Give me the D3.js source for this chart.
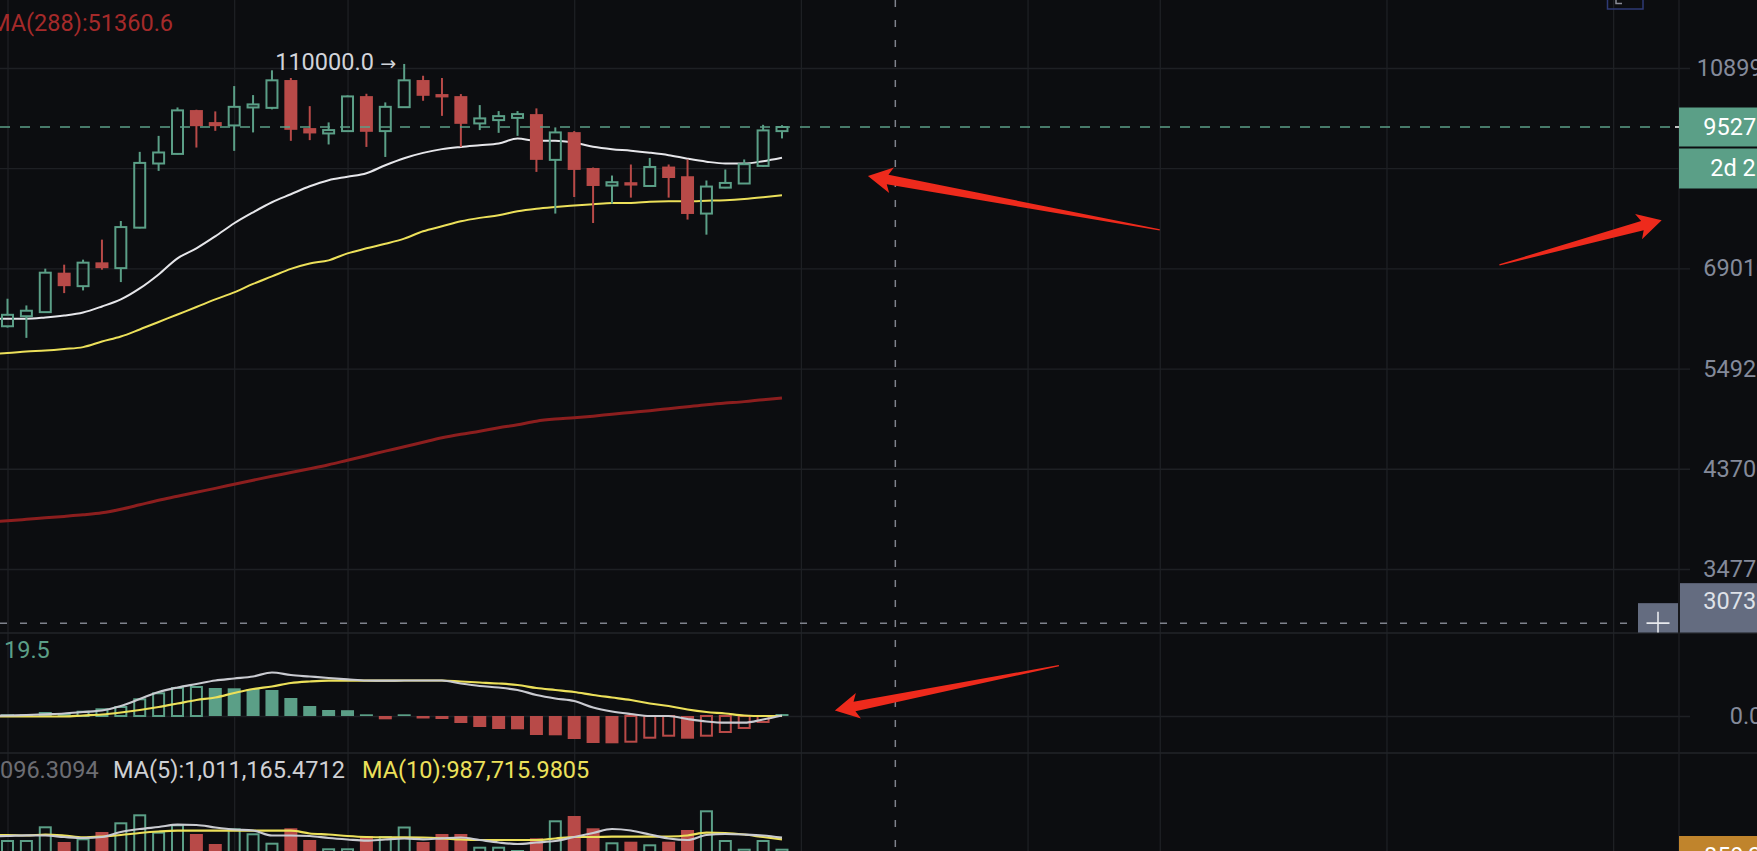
<!DOCTYPE html>
<html><head><meta charset="utf-8">
<script src="https://cdn.jsdelivr.net/npm/d3@7"></script>
<style>html,body{margin:0;padding:0;background:#0c0d10;overflow:hidden}svg{display:block}</style>
</head><body><svg id="c" width="1757" height="851"></svg>
<script>
// ---------- DATA ----------
const openP  = [60480,61880,62460,68340,66270,69970,69050,75730,87660,89600,99020,96340,95610,99610,99520,106040,95030,93880,94380,102220,94380,99680,106040,102700,102220,96050,96780,97270,98110,88390,94160,86770,83360,84000,83280,87050,85150,78200,82970,83750,87180,94380];
const highP  = [64400,63420,68970,69600,70400,73690,76890,90020,93360,99610,99100,98720,104590,102460,108420,106530,99910,96270,102390,102770,100770,110000,107080,106530,102700,100150,98790,98790,99400,95180,94380,86860,85290,87460,88780,87460,88470,84330,86470,88470,95740,95670];
const lowP   = [60300,58900,62400,65230,65630,68810,66890,75620,86200,89480,90910,94440,90230,94100,99180,92310,92460,91550,94300,91040,88980,99600,101140,97720,91040,94600,94010,93360,86000,78200,81210,76540,80010,81100,83200,81100,77140,74530,82860,83700,86970,92820];
const closeP = [62080,62660,68340,66270,69920,69050,75830,87780,89890,98950,95450,95450,99750,100310,105970,94660,93880,94600,102150,94230,99750,105970,102290,101920,95960,97160,97660,98110,88390,94100,86390,83280,84000,83360,86970,84810,78130,83170,83860,87520,94530,95270];
// indicator series start one bar before the first visible candle (index -1)
const maWhite  = [61520,61520,61520,61700,61980,62410,63270,64300,65930,68070,70610,72240,74250,76490,78430,80250,81720,83220,84380,85050,85740,87320,88730,89810,90580,91040,91400,91760,92780,92310,92310,91890,91080,90580,90270,89850,89340,88630,88030,87660,87660,88130,88830];
const maYellow = [56800,56900,57090,57220,57420,57670,58410,59080,60040,61070,62130,63190,64300,65330,66610,67760,68940,69800,70290,71420,72240,72990,73860,75100,75960,76840,77440,77890,78610,79070,79380,79640,79880,80120,80120,80340,80430,80430,80520,80620,80840,81160,81530];
const ma288    = [38690,38810,38940,39070,39200,39340,39520,39840,40250,40670,41040,41420,41790,42180,42570,42960,43320,43700,44100,44560,45020,45490,45950,46430,46900,47280,47610,47990,48320,48710,48940,49090,49270,49490,49690,49890,50120,50350,50580,50760,50930,51160,51360.6];
const macdDif  = [0,5,10,17,25,40,55,100,170,240,285,320,355,375,395,435,410,395,380,367,355,353,355,355,355,325,300,285,260,210,175,150,85,45,20,0,0,-30,-55,-67,-67,-35,5];
const macdDea  = [-5,-5,-5,-5,-5,5,15,35,60,90,125,160,185,230,270,295,330,345,353,353,353,353,355,355,355,345,335,325,310,280,260,240,210,185,160,125,100,65,40,25,5,0,0];
const volMa5   = [1030000,1034480,1044130,1041370,1020680,1006890,1020680,1089650,1131030,1158610,1190340,1186200,1151720,1124130,1110340,1041370,1041370,1034480,1006890,986200,969650,986200,1000000,988960,1002750,1013790,979300,944820,924130,944820,965510,1020680,1075860,1131030,1110340,1055160,1000000,979300,1048270,1062060,1055160,1041370,1011165.4712];
const volMa10  = [1048270,1048270,1041370,1055160,1041370,1016540,1027580,1048270,1075860,1096540,1107580,1107580,1107580,1107580,1107580,1107580,1107580,1068960,1055160,1034480,1020680,1016540,1016540,1013790,1002750,986200,979300,979300,979300,979300,1000000,1020680,1020680,1024820,1024820,1024820,1027580,1041370,1079990,1075860,1055160,1020680,987715.9805];
const macdHist = [17,17,40,30,53,77,100,177,237,290,300,280,277,270,260,180,100,60,58,17,-33,17,-25,-30,-70,-110,-130,-133,-190,-193,-230,-270,-273,-267,-227,-207,-227,-207,-170,-130,-70,19.5];
const volume   = [979300,979300,1168270,951700,1002750,1089650,1223440,1333780,1093790,1195850,1062060,924130,1140680,1071720,942060,1140680,979300,864820,864820,1034480,1034480,1165510,951700,1062060,1062060,886890,886890,841370,1002750,1251030,1310340,1140680,947580,955850,919990,955850,1117230,1388960,979300,859300,979300,859300];
const priceTicks = [108990, 86730, 69010, 54920, 43700, 34770];
const priceTickLabels = ["108990.0", "", "69010.0", "54920.0", "43700.0", "34770.0"]; // 2nd is hidden under the countdown box
const timeGridIdx = [0,12,18,30,42,54,61,73,85];
const lastPrice = 95270.0;
const countdown = "2d 21h";
const crossIdx = 47, crossPrice = 30730.8, crossPct = "-67.74%";
const highMarkIdx = 21, highMarkPrice = 110000.0;
const ma288Label = "MA(288):51360.6";
const macdLabel = "19.5";
const volLabels = ["096.3094", "MA(5):1,011,165.4712", "MA(10):987,715.9805"];
const lastVolLabel = "859,296";
// hand-drawn annotation arrows (data coordinates)
const arrows = [
  {pane:"main", tip:[45.55, 85206], tail:[61.0, 75361]},
  {pane:"main", tip:[87.57, 77014], tail:[78.98, 69564]},
  {pane:"macd", tip:[43.8, 55], tail:[55.66, 504]}
];

// ---------- STYLE / LAYOUT ----------
const W=1757, H=851;
const C={bg:"#0c0d10",grid:"#1e2024",up:"#5b9f87",down:"#b84a48",white:"#e6e6ea",yellow:"#ece05a",
  ma288:"#8c1e1e",axisText:"#848a9a",cross:"#7f828c",arrow:"#ee2a1c",label:"#646c80",orange:"#c0842c"};
const FONT="Roboto, 'Noto Sans', sans-serif", FS=23.5;
const axisX=1679, tickEnd=1690, labelCX=1746;
const mainBottom=632.5, macdTop=633, macdBottom=753;

const xs=d3.scaleLinear().domain([0,85]).range([7.5,1613.15]);
const ys=d3.scaleLog().domain([34770,108990]).range([569,68]);
const ym=d3.scaleLinear().domain([-370,830]).range([753,633]);
const yv=d3.scaleLinear().domain([0,1e6]).range([911,838.5]);

const svg=d3.select("#c");
svg.append("rect").attr("width",W).attr("height",H).attr("fill",C.bg);
const defs=svg.append("defs");
defs.append("clipPath").attr("id","cpMain").append("rect").attr("x",0).attr("y",0).attr("width",W).attr("height",mainBottom);
defs.append("clipPath").attr("id","cpMacd").append("rect").attr("x",0).attr("y",macdTop+1).attr("width",axisX).attr("height",macdBottom-macdTop-1);
defs.append("clipPath").attr("id","cpVol").append("rect").attr("x",0).attr("y",macdBottom+1).attr("width",W).attr("height",H-macdBottom);

const styleGrid=g=>{g.select(".domain").remove();g.selectAll("line").attr("stroke",C.grid).attr("stroke-width",1.3);};
svg.append("g").call(d3.axisTop(xs).tickValues(timeGridIdx).tickSize(-H).tickFormat("")).call(styleGrid);
svg.append("g").attr("transform",`translate(${tickEnd},0)`)
  .call(d3.axisLeft(ys).tickValues(priceTicks).tickSize(tickEnd).tickFormat("")).call(styleGrid);
svg.append("g").attr("transform",`translate(${tickEnd},0)`)
  .call(d3.axisLeft(ym).tickValues([0]).tickSize(tickEnd).tickFormat("")).call(styleGrid);
[macdTop,macdBottom].forEach(y=>svg.append("line").attr("x1",0).attr("x2",W).attr("y1",y).attr("y2",y).attr("stroke","#222428").attr("stroke-width",1.5));
svg.append("line").attr("x1",axisX).attr("x2",axisX).attr("y1",0).attr("y2",H).attr("stroke",C.grid).attr("stroke-width",1.3);

function axisLabels(scale, vals, fmt){
  const g=svg.append("g").attr("transform",`translate(${labelCX},0)`)
    .call(d3.axisRight(scale).tickValues(vals).tickSize(0).tickPadding(0).tickFormat(fmt));
  g.select(".domain").remove();
  g.selectAll("text").attr("x",0).attr("text-anchor","middle").attr("fill",C.axisText)
    .style("font-family",FONT).style("font-size",FS+"px");
  g.selectAll(".tick").filter(function(){return d3.select(this).select("text").text()==="";}).remove();
}
axisLabels(ys, priceTicks, (d,i)=>priceTickLabels[i]);
axisLabels(ym, [0], d=>d.toFixed(1));

// ---------- MAIN PANE ----------
const main=svg.append("g").attr("clip-path","url(#cpMain)");
const N=openP.length, idx=d3.range(N);
const lineP=arr=>d3.line().x((d,i)=>xs(i-1)).y(d=>ys(d)).curve(d3.curveMonotoneX)(arr);
main.append("path").attr("d",lineP(ma288)).attr("fill","none").attr("stroke",C.ma288).attr("stroke-width",3);
main.append("path").attr("d",lineP(maYellow)).attr("fill","none").attr("stroke",C.yellow).attr("stroke-width",2);
main.append("path").attr("d",lineP(maWhite)).attr("fill","none").attr("stroke",C.white).attr("stroke-width",2);

const gc=main.append("g");
idx.forEach(i=>{
  const o=openP[i],c=closeP[i],h=highP[i],l=lowP[i],x=xs(i),up=c>=o;
  const yT=ys(Math.max(o,c)), yB=ys(Math.min(o,c));
  const col=up?C.up:C.down;
  if(up){
    gc.append("line").attr("x1",x).attr("x2",x).attr("y1",ys(h)).attr("y2",yT).attr("stroke",col).attr("stroke-width",2);
    gc.append("line").attr("x1",x).attr("x2",x).attr("y1",yB).attr("y2",ys(l)).attr("stroke",col).attr("stroke-width",2);
    gc.append("rect").attr("x",x-5.5).attr("y",yT).attr("width",11).attr("height",Math.max(yB-yT,1))
      .attr("fill","none").attr("stroke",col).attr("stroke-width",2);
  } else {
    gc.append("line").attr("x1",x).attr("x2",x).attr("y1",ys(h)).attr("y2",ys(l)).attr("stroke",col).attr("stroke-width",2);
    gc.append("rect").attr("x",x-6.5).attr("y",yT).attr("width",13).attr("height",Math.max(yB-yT,2)).attr("fill",col);
  }
});

const yLast=ys(lastPrice);
main.append("line").attr("x1",0).attr("x2",axisX).attr("y1",yLast).attr("y2",yLast)
  .attr("stroke",C.up).attr("stroke-width",1.5).attr("stroke-dasharray","10,10");
svg.append("line").attr("x1",axisX-4).attr("x2",tickEnd).attr("y1",yLast).attr("y2",yLast).attr("stroke","#ffffff").attr("stroke-width",1.5);
svg.append("rect").attr("x",axisX).attr("y",yLast-19.5).attr("width",W-axisX).attr("height",39).attr("fill",C.up);
svg.append("rect").attr("x",axisX).attr("y",yLast+21.5).attr("width",W-axisX).attr("height",40).attr("fill",C.up);
const tx=(x,y,t,col,anchor)=>svg.append("text").attr("x",x).attr("y",y).attr("fill",col).attr("text-anchor",anchor||"start")
  .style("font-family",FONT).style("font-size",FS+"px").text(t);
tx(labelCX,yLast+8,lastPrice.toFixed(1),"#ffffff","middle");
tx(labelCX,yLast+49.5,countdown,"#ffffff","middle");

// high marker
tx(xs(highMarkIdx)-129,ys(highMarkPrice)+6,highMarkPrice.toFixed(1),"#d2d4da");
svg.append("text").attr("x",xs(highMarkIdx)-24).attr("y",ys(highMarkPrice)+6).attr("fill","#d2d4da")
  .style("font-family","'DejaVu Sans', sans-serif").style("font-size","19px").text("→");

tx(-10,31,ma288Label,"#a52a2a");

// ---------- MACD PANE ----------
const mg=svg.append("g").attr("clip-path","url(#cpMacd)");
macdHist.forEach((v,i)=>{
  const prev=i>0?macdHist[i-1]:0, x=xs(i);
  const pos=v>=0, col=pos?C.up:C.down;
  const hollow=v>prev;
  const y0=ym(0), y1=ym(v), top=Math.min(y0,y1), hh=Math.max(Math.abs(y1-y0),1.5);
  if(hollow && hh>3){
    mg.append("rect").attr("x",x-5.5).attr("y",top+(pos?1:0)).attr("width",11).attr("height",hh-1)
      .attr("fill","none").attr("stroke",col).attr("stroke-width",2);
  } else {
    mg.append("rect").attr("x",x-6.5).attr("y",top).attr("width",13).attr("height",hh).attr("fill",col);
  }
});
const lineM=arr=>d3.line().x((d,i)=>xs(i-1)).y(d=>ym(d)).curve(d3.curveMonotoneX)(arr);
mg.append("path").attr("d",lineM(macdDea)).attr("fill","none").attr("stroke",C.yellow).attr("stroke-width",2.2);
mg.append("path").attr("d",lineM(macdDif)).attr("fill","none").attr("stroke","#c9cad0").attr("stroke-width",2.2);
tx(4,658,macdLabel,C.up);

// ---------- VOLUME PANE ----------
const vg=svg.append("g").attr("clip-path","url(#cpVol)");
volume.forEach((v,i)=>{
  const x=xs(i), up=closeP[i]>=openP[i], col=up?C.up:C.down, y=yv(v);
  if(up) vg.append("rect").attr("x",x-5.5).attr("y",y+1).attr("width",11).attr("height",H+20-y).attr("fill","none").attr("stroke",col).attr("stroke-width",2);
  else vg.append("rect").attr("x",x-6.5).attr("y",y).attr("width",13).attr("height",H+20-y).attr("fill",col);
});
const lineV=arr=>d3.line().x((d,i)=>xs(i-1)).y(d=>yv(d)).curve(d3.curveMonotoneX)(arr);
vg.append("path").attr("d",lineV(volMa10)).attr("fill","none").attr("stroke",C.yellow).attr("stroke-width",2.2);
vg.append("path").attr("d",lineV(volMa5)).attr("fill","none").attr("stroke","#c9cad0").attr("stroke-width",2.2);
tx(0,778,volLabels[0],"#6c6d73");
tx(113,778,volLabels[1],"#cfd0d4");
tx(362,778,volLabels[2],"#ece05a");
svg.append("rect").attr("x",axisX).attr("y",836).attr("width",W-axisX).attr("height",40).attr("fill",C.orange);
tx(labelCX,864,lastVolLabel,"#ffffff","middle");

// ---------- CROSSHAIR ----------
const cx=xs(crossIdx), cy=ys(crossPrice);
svg.append("line").attr("x1",cx).attr("x2",cx).attr("y1",0).attr("y2",H).attr("stroke",C.cross).attr("stroke-width",1.5).attr("stroke-dasharray","7,13");
main.append("line").attr("x1",0).attr("x2",axisX-41).attr("y1",cy).attr("y2",cy).attr("stroke",C.cross).attr("stroke-width",1.5).attr("stroke-dasharray","7,13");
const cg=svg.append("g").attr("clip-path","url(#cpMain)");
cg.append("rect").attr("x",axisX+1).attr("y",cy-40).attr("width",W-axisX).attr("height",82).attr("fill",C.label);
cg.append("rect").attr("x",axisX-41).attr("y",cy-20).attr("width",40).attr("height",40).attr("fill",C.label);
cg.append("line").attr("x1",axisX-32.5).attr("x2",axisX-9.5).attr("y1",cy).attr("y2",cy).attr("stroke","#e8eaee").attr("stroke-width",1.6);
cg.append("line").attr("x1",axisX-21).attr("x2",axisX-21).attr("y1",cy-11.5).attr("y2",cy+11.5).attr("stroke","#e8eaee").attr("stroke-width",1.6);
cg.append("text").attr("x",labelCX).attr("y",cy-14).attr("text-anchor","middle").attr("fill","#dfe2e8").style("font-family",FONT).style("font-size",FS+"px").text(crossPrice.toFixed(1));
cg.append("text").attr("x",labelCX).attr("y",cy+27).attr("text-anchor","middle").attr("fill","#dfe2e8").style("font-family",FONT).style("font-size",FS+"px").text(crossPct);

svg.append("rect").attr("x",1607.5).attr("y",-12).attr("width",35.5).attr("height",21).attr("fill","none").attr("stroke","#2e3a74").attr("stroke-width",1.5);
svg.append("path").attr("d","M1616,-2 V3.5 H1622").attr("fill","none").attr("stroke","#8a8d96").attr("stroke-width",1.5);

// ---------- ANNOTATION ARROWS ----------
function arrowPoly(p, q){
  const dx=q[0]-p[0], dy=q[1]-p[1], L=Math.hypot(dx,dy), ux=dx/L, uy=dy/L, nx=-uy, ny=ux;
  const pt=(a,b)=>[p[0]+ux*a+nx*b, p[1]+uy*a+ny*b];
  return [p, pt(24,-13), pt(20,-4.8), pt(L,-0.6), pt(L,0.6), pt(20,4.8), pt(24,13)];
}
arrows.forEach(a=>{
  const yS=a.pane==="main"?ys:ym;
  const tip=[xs(a.tip[0]),yS(a.tip[1])], tail=[xs(a.tail[0]),yS(a.tail[1])];
  svg.append("path").attr("d","M"+arrowPoly(tip,tail).map(d=>d.join(",")).join("L")+"Z").attr("fill",C.arrow);
});
</script></body></html>
